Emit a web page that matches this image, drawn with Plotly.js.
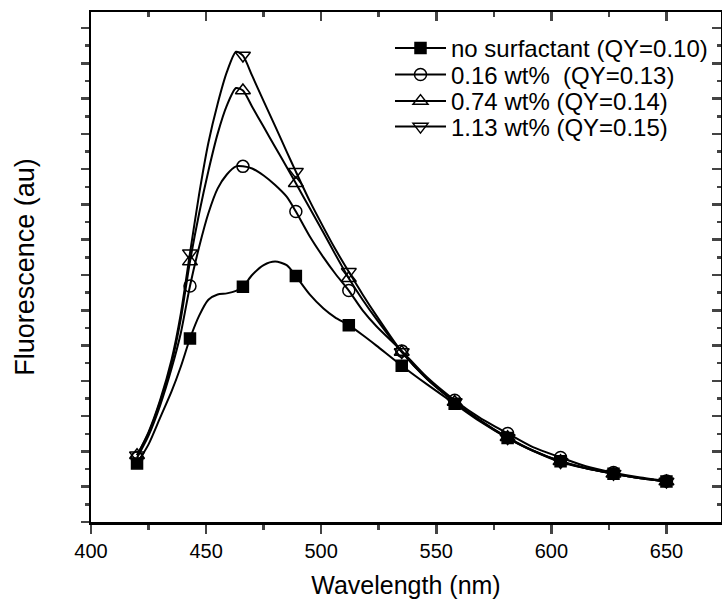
<!DOCTYPE html>
<html>
<head>
<meta charset="utf-8">
<script src="https://cdn.plot.ly/plotly-3.0.1.min.js"></script>
<style>
html,body{margin:0;padding:0;background:#fff;}
#chart{width:722px;height:599px;}
</style>
</head>
<body>
<div id="chart"></div>
<script>
// Wavelength grid (nm)
const wavelength = [420,425,430,435,439,443,447,451,455,459,463,466,470,475,480,485,489,495,501,506,512,518,524,535,546,558,569,581,592,604,615,627,638,650];
// Wavelengths carrying a marker symbol
const markerWavelength = [420,443,466,489,512,535,558,581,604,627,650];

// Fluorescence (arbitrary units) for each sample
const noSurfactant = [1.66,2.20,2.95,3.70,4.40,5.20,5.85,6.30,6.45,6.48,6.55,6.67,7.00,7.28,7.38,7.28,6.97,6.45,6.05,5.80,5.58,5.30,5.00,4.43,3.90,3.35,2.85,2.38,2.02,1.72,1.52,1.37,1.25,1.15];
const wt016 = [1.82,2.45,3.30,4.35,5.35,6.69,7.80,8.75,9.45,9.85,10.08,10.08,10.02,9.82,9.55,9.22,8.80,8.10,7.50,7.05,6.56,6.00,5.55,4.85,4.10,3.45,2.95,2.51,2.12,1.83,1.58,1.40,1.27,1.16];
const wt074 = [1.89,2.52,3.40,4.50,5.75,7.38,8.75,9.95,11.00,11.80,12.30,12.23,11.77,11.20,10.63,10.06,9.60,8.90,8.20,7.60,6.91,6.30,5.75,4.82,4.05,3.40,2.88,2.40,2.03,1.72,1.53,1.37,1.25,1.15];
const wt113 = [1.89,2.55,3.45,4.60,5.90,7.62,9.30,10.75,11.85,12.75,13.33,13.22,12.65,11.93,11.22,10.50,9.93,9.10,8.35,7.75,7.09,6.45,5.85,4.82,4.05,3.40,2.88,2.38,2.02,1.70,1.52,1.37,1.25,1.15];

const seriesNames = ["no surfactant (QY=0.10)", "0.16 wt%  (QY=0.13)", "0.74 wt% (QY=0.14)", "1.13 wt% (QY=0.15)"];
const seriesValues = [noSurfactant, wt016, wt074, wt113];
const seriesSymbols = ["square", "circle-open", "triangle-up-open", "triangle-down-open"];
const seriesSizes = [11, 12, 13, 13];
const legendIds = ["legend", "legend2", "legend3", "legend4"];

const traces = [];
seriesValues.forEach((vals, i) => {
  traces.push({
    x: wavelength, y: vals, mode: "lines", type: "scatter",
    line: {color: "#000", width: 2, shape: "spline", smoothing: 0.7},
    showlegend: false, hoverinfo: "skip"
  });
});
seriesValues.forEach((vals, i) => {
  const mx = [], my = [];
  wavelength.forEach((w, k) => { if (markerWavelength.includes(w)) { mx.push(w); my.push(vals[k]); } });
  traces.push({
    x: mx, y: my, mode: "markers", type: "scatter", showlegend: false, hoverinfo: "skip",
    marker: {symbol: seriesSymbols[i], size: seriesSizes[i], color: "#000", line: {color: "#000", width: 1.5}}
  });
});
seriesValues.forEach((vals, i) => {
  traces.push({
    x: [null], y: [null], mode: "lines+markers", type: "scatter", name: seriesNames[i],
    legend: legendIds[i],
    line: {color: "#000", width: 2},
    marker: {symbol: seriesSymbols[i], size: seriesSizes[i], color: "#000", line: {color: "#000", width: 1.5}}
  });
});

const font = {family: "Liberation Sans, Arial, sans-serif", color: "#000"};
const xr = [400, 673.7], yr = [0, 14.455];
const xTicks = [400,450,500,550,600,650];
const layout = {
  width: 722, height: 599,
  margin: {l: 91, r: 1, t: 12, b: 77},
  paper_bgcolor: "#fff", plot_bgcolor: "#fff",
  showlegend: true,
  font: Object.assign({size: 20}, font),
  xaxis: {
    range: xr, tickvals: xTicks, ticks: "outside", ticklen: 9, tickwidth: 2.5,
    minor: {dtick: 25, tick0: 400, ticks: "outside", ticklen: 5, tickwidth: 2.5},
    showline: true, linewidth: 2.5, linecolor: "#000", showgrid: false, zeroline: false,
    tickfont: Object.assign({size: 20}, font),
    title: {text: "Wavelength (nm)", font: Object.assign({size: 25}, font), standoff: 17}
  },
  xaxis2: {
    range: xr, overlaying: "x", side: "top", tickvals: xTicks, ticks: "inside", ticklen: 9, tickwidth: 2.5,
    minor: {dtick: 25, tick0: 400, ticks: "inside", ticklen: 5, tickwidth: 2.5},
    showline: true, linewidth: 2.5, linecolor: "#000", showgrid: false, zeroline: false, showticklabels: false
  },
  yaxis: {
    range: yr, dtick: 1, tick0: 0, ticks: "outside", ticklen: 8, tickwidth: 2.5,
    minor: {dtick: 0.5, tick0: 0, ticks: "outside", ticklen: 4, tickwidth: 2.5},
    showline: true, linewidth: 2.5, linecolor: "#000", showgrid: false, zeroline: false, showticklabels: false,
    title: {text: "Fluorescence (au)", font: Object.assign({size: 27}, font), standoff: 38}
  },
  yaxis2: {
    range: yr, overlaying: "y", side: "right", dtick: 1, tick0: 0, ticks: "inside", ticklen: 9, tickwidth: 2.5,
    minor: {dtick: 0.5, tick0: 0, ticks: "inside", ticklen: 4, tickwidth: 2.5},
    showline: true, linewidth: 2.5, linecolor: "#000", showgrid: false, zeroline: false, showticklabels: false
  }
};
// one legend per row so the rows can sit as tightly as in the original
const legendRowY = [0.9284, 0.8765, 0.8245, 0.7745];
legendIds.forEach((id, i) => {
  layout[id] = {
    x: 0.4746, y: legendRowY[i], xanchor: "left", yanchor: "middle",
    bgcolor: "rgba(0,0,0,0)", borderwidth: 0,
    font: Object.assign({size: 24}, font), itemwidth: 51
  };
});
traces.push({x: [null], y: [null], xaxis: "x2", yaxis: "y2", showlegend: false, hoverinfo: "skip", mode: "lines"});

Plotly.newPlot("chart", traces, layout, {displayModeBar: false, staticPlot: true});
</script>
</body>
</html>
